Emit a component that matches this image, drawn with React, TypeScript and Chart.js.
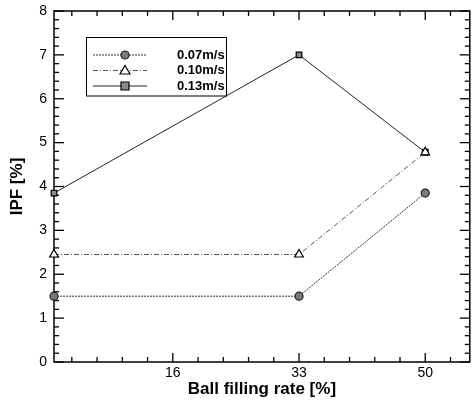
import React, { useEffect, useRef } from "react";
import { Chart, registerables } from "chart.js";

Chart.register(...registerables);

const xValues = [0, 33, 50];
const series007 = [1.5, 1.5, 3.85];
const series010 = [2.45, 2.45, 4.78];
const series013 = [3.85, 7.0, 4.78];
const seriesLabels = ["0.07m/s", "0.10m/s", "0.13m/s"];
const xMajorTicks = [16, 33, 50];
const xMinorTicks = [2.4, 5.8, 9.2, 12.6, 19.4, 22.8, 26.2, 29.6, 36.4, 39.8, 43.2, 46.6, 53.4];
const yMajorTicks = [0, 1, 2, 3, 4, 5, 6, 7, 8];
const yMinorStep = 0.2;

const FONT = "'Liberation Sans', Arial, Helvetica, sans-serif";

const styles = [
  { color: "#333333", dash: [2, 1], point: "circle", fill: "#7a7a7a", stroke: "#222", radius: 4 },
  { color: "#555555", dash: [5, 2, 1, 2], point: "triangle", fill: "#ffffff", stroke: "#000", radius: 5 },
  { color: "#222222", dash: [], point: "rect", fill: "#8a8a8a", stroke: "#000", radius: 4 },
];

function drawMarker(ctx: CanvasRenderingContext2D, kind: string, x: number, y: number, r: number, fill: string, stroke: string) {
  ctx.save();
  ctx.setLineDash([]);
  ctx.lineWidth = 1.2;
  ctx.fillStyle = fill;
  ctx.strokeStyle = stroke;
  ctx.beginPath();
  if (kind === "circle") {
    ctx.arc(x, y, r, 0, Math.PI * 2);
  } else if (kind === "triangle") {
    ctx.moveTo(x, y - r);
    ctx.lineTo(x + r, y + r * 0.7);
    ctx.lineTo(x - r, y + r * 0.7);
    ctx.closePath();
  } else {
    ctx.rect(x - r, y - r, 2 * r, 2 * r);
  }
  ctx.fill();
  ctx.stroke();
  ctx.restore();
}

const framePlugin = {
  id: "frameTicks",
  beforeDatasetsDraw(chart: any) {
    const { ctx, chartArea } = chart;
    const { left, right, top, bottom } = chartArea;
    const xs = chart.scales.x;
    const ys = chart.scales.y;
    ctx.save();
    ctx.strokeStyle = "#000";
    ctx.lineWidth = 1.5;
    ctx.setLineDash([]);
    ctx.strokeRect(left, top, right - left, bottom - top);
    ctx.lineWidth = 1.3;
    const tick = (x1: number, y1: number, x2: number, y2: number) => {
      ctx.beginPath();
      ctx.moveTo(x1, y1);
      ctx.lineTo(x2, y2);
      ctx.stroke();
    };
    xMajorTicks.forEach((v) => {
      const px = xs.getPixelForValue(v);
      tick(px, bottom, px, bottom - 9);
      tick(px, top, px, top + 9);
    });
    xMinorTicks.forEach((v) => {
      const px = xs.getPixelForValue(v);
      tick(px, bottom, px, bottom - 5);
      tick(px, top, px, top + 5);
    });
    const nMinor = Math.round((yMajorTicks[yMajorTicks.length - 1] - yMajorTicks[0]) / yMinorStep);
    for (let i = 0; i <= nMinor; i++) {
      const v = yMajorTicks[0] + i * yMinorStep;
      const major = Math.abs(v - Math.round(v)) < 1e-6;
      const py = ys.getPixelForValue(v);
      const len = major ? 10 : 5;
      tick(left, py, left + len, py);
      tick(right, py, right - len, py);
    }
    ctx.restore();
  },
  afterDraw(chart: any) {
    const { ctx } = chart;
    ctx.save();
    ctx.strokeStyle = "#000";
    ctx.lineWidth = 1;
    ctx.setLineDash([]);
    ctx.strokeRect(86.5, 37.5, 140, 58.5);
    const rows = [55, 70.5, 86];
    seriesLabels.forEach((lab, i) => {
      const s = styles[i];
      const y = rows[i];
      ctx.strokeStyle = s.color;
      ctx.lineWidth = 1;
      ctx.setLineDash(s.dash);
      ctx.beginPath();
      ctx.moveTo(93, y);
      ctx.lineTo(147, y);
      ctx.stroke();
      drawMarker(ctx, s.point, 125, y, s.radius, s.fill, s.stroke);
      ctx.setLineDash([]);
      ctx.fillStyle = "#000";
      ctx.font = `bold 13px ${FONT}`;
      ctx.textAlign = "left";
      ctx.textBaseline = "middle";
      ctx.fillText(lab, 177, y);
    });
    ctx.restore();
  },
};

export default function App() {
  const ref = useRef<HTMLCanvasElement | null>(null);
  useEffect(() => {
    if (!ref.current) return;
    const all = [series007, series010, series013];
    const chart = new Chart(ref.current, {
      type: "line",
      data: {
        datasets: all.map((vals, i) => ({
          label: seriesLabels[i],
          data: vals.map((v, j) => ({ x: xValues[j], y: v })),
          borderColor: styles[i].color,
          borderWidth: 1,
          borderDash: styles[i].dash,
          pointStyle: styles[i].point as any,
          pointRadius: styles[i].radius,
          pointBackgroundColor: styles[i].fill,
          pointBorderColor: styles[i].stroke,
          pointBorderWidth: 1.2,
          fill: false,
          tension: 0,
          clip: false as any,
        })),
      },
      options: {
        animation: false,
        responsive: false,
        events: [],
        layout: { padding: { top: 11, right: 1, left: 0, bottom: 0 } },
        plugins: { legend: { display: false }, tooltip: { enabled: false } },
        scales: {
          x: {
            type: "linear",
            min: 0,
            max: 56,
            afterBuildTicks: (scale: any) => {
              scale.ticks = xMajorTicks.map((v) => ({ value: v }));
            },
            afterFit: (scale: any) => {
              scale.height = 41;
              scale.paddingLeft = 0;
              scale.paddingRight = 0;
            },
            grid: { display: false, drawTicks: false },
            border: { display: false },
            ticks: {
              color: "#000",
              font: { family: FONT, size: 14 },
              padding: 3,
              maxRotation: 0,
              autoSkip: false,
              callback: (v: any) => String(v),
            },
            title: {
              display: true,
              text: "Ball filling rate [%]",
              color: "#000",
              font: { family: FONT, size: 17, weight: "bold" },
              padding: { top: 0, bottom: 3 },
            },
          },
          y: {
            type: "linear",
            min: 0,
            max: 8,
            afterBuildTicks: (scale: any) => {
              scale.ticks = yMajorTicks.map((v) => ({ value: v }));
            },
            afterFit: (scale: any) => {
              scale.width = 54;
              scale.paddingTop = 0;
              scale.paddingBottom = 0;
            },
            grid: { display: false, drawTicks: false },
            border: { display: false },
            ticks: {
              color: "#000",
              font: { family: FONT, size: 14 },
              padding: 7,
              autoSkip: false,
              callback: (v: any) => String(v),
            },
            title: {
              display: true,
              text: "IPF [%]",
              color: "#000",
              font: { family: FONT, size: 17, weight: "bold" },
              padding: { top: 7, bottom: 0 },
            },
          },
        },
      },
      plugins: [framePlugin],
    } as any);
    return () => chart.destroy();
  }, []);
  return (
    <div style={{ position: "absolute", left: 0, top: 0, width: 476, height: 403, background: "#fff" }}>
      <canvas ref={ref} width={476} height={403} style={{ width: 476, height: 403 }} />
    </div>
  );
}
